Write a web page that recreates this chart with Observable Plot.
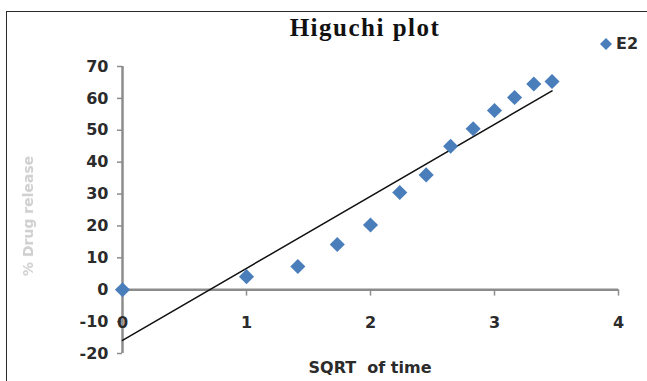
<!DOCTYPE html>
<html>
<head>
<meta charset="utf-8">
<script src="https://cdn.jsdelivr.net/npm/d3@7"></script>
<script src="https://cdn.jsdelivr.net/npm/@observablehq/plot@0.6"></script>
<style>
  body { margin: 0; background: #fff; }
  #chart { position: relative; width: 647px; height: 381px; overflow: hidden; background: #fff; }
  #chart svg { position: absolute; left: 0; top: 0; }
  #frame { position: absolute; left: 6px; top: 11px; width: 660px; height: 400px;
           border-top: 1.5px solid #2a2a2a; border-left: 1.5px solid #2a2a2a; box-sizing: border-box; }
  #title { position: absolute; left: 215px; width: 300px; top: 14px; text-align: center; letter-spacing: 1.5px;
           font: bold 25px "Liberation Serif", "Times New Roman", serif; color: #111; }
  #legend { position: absolute; left: 599px; top: 34px; display: flex; align-items: center;
            font: bold 16px "DejaVu Sans", sans-serif; color: #2b2b2b; }
  #legend svg { position: static; margin-right: 3px; }
  #ylabel { position: absolute; left: 28px; top: 216px; transform: translate(-50%, -50%) rotate(-90deg);
            white-space: nowrap; font: bold 14px "DejaVu Sans", sans-serif; color: #cfcfcf; filter: blur(0.4px); }
  #xlabel { position: absolute; left: 270px; width: 200px; top: 358px; text-align: center; white-space: pre;
            font: bold 16px "DejaVu Sans", sans-serif; color: #2b2b2b; }
</style>
</head>
<body>
<div id="chart">
  <div id="frame"></div>
  <div id="title">Higuchi plot</div>
  <div id="legend"><svg width="14" height="14" viewBox="-7 -7 14 14"><path d="M0,-6L6,0L0,6L-6,0Z" fill="#4a7ebb"/></svg>E2</div>
  <div id="ylabel">% Drug release</div>
  <div id="xlabel">SQRT  of time</div>
</div>
<script>
// Higuchi model: cumulative % drug release against the square root of time
const seriesName = "E2";
const sqrtTime = [0, 1, 1.414, 1.732, 2, 2.236, 2.449, 2.646, 2.828, 3, 3.162, 3.317, 3.464];
const drugRelease = [0, 4.1, 7.3, 14.2, 20.3, 30.5, 36, 45, 50.5, 56.2, 60.3, 64.5, 65.3];
const xTicks = [0, 1, 2, 3, 4];
const yTicks = [-20, -10, 0, 10, 20, 30, 40, 50, 60, 70];

const data = sqrtTime.map((x, i) => ({x, y: drugRelease[i], series: seriesName}));

const axisGray = "#8c8c8c";
const textDark = "#2b2b2b";

const plot = Plot.plot({
  width: 647,
  height: 381,
  marginLeft: 122,
  marginRight: 29,
  marginTop: 66,
  marginBottom: 28,
  style: {fontFamily: "DejaVu Sans, sans-serif", fontSize: "16px", fontWeight: "bold", background: "transparent"},
  x: {domain: [0, 4], axis: null},
  y: {domain: [-20, 70], axis: null},
  marks: [
    // vertical axis line and ticks
    Plot.ruleX([0], {y1: -20, y2: 70, stroke: axisGray, strokeWidth: 2.5}),
    Plot.axisY({ticks: yTicks, tickFormat: d => String(d), tickSize: 5, tickPadding: 9,
                stroke: axisGray, strokeWidth: 1.5, fill: textDark, label: null}),
    // horizontal axis through zero with small downward ticks
    Plot.ruleY([0], {x1: 0, x2: 4, stroke: axisGray, strokeWidth: 2.5}),
    Plot.ruleX(xTicks.slice(1), {x: d => d, y1: 0, y2: -2, stroke: axisGray, strokeWidth: 1.5}),
    Plot.text(xTicks, {x: d => d, y: -10, text: d => String(d), fill: textDark, fontSize: 16, fontWeight: "bold", dy: 1}),
    // linear trend line
    Plot.linearRegressionY(data, {x: "x", y: "y", ci: 0, stroke: "#111", strokeWidth: 1.5}),
    // observations
    Plot.dot(data, {x: "x", y: "y", symbol: "diamond2", r: 6.8, fill: "#4a7ebb", stroke: "none"})
  ]
});

document.getElementById("chart").insertBefore(plot, document.getElementById("title"));
</script>
</body>
</html>
